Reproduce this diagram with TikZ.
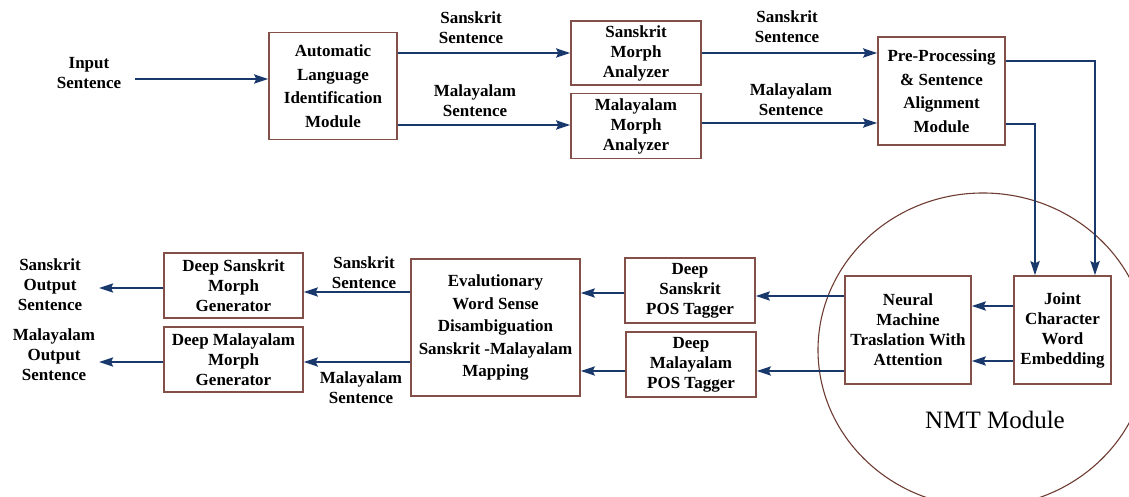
\documentclass[tikz,border=0pt]{standalone}
\usepackage{fontspec}
\setmainfont{Liberation Serif}
\usetikzlibrary{arrows.meta}
\definecolor{arrc}{RGB}{25,56,108}
\definecolor{boxc}{RGB}{130,80,72}
\definecolor{circc}{RGB}{110,60,50}
\tikzset{
  box/.style={draw=boxc, line width=1.4pt, align=center, inner sep=0pt, font=\fontsize{17}{20}\selectfont\bfseries},
  tallbox/.style={box, font=\fontsize{17}{23.5}\selectfont\bfseries},
  lbl/.style={align=center, inner sep=0pt, font=\fontsize{17}{20}\selectfont\bfseries},
  conn/.style={draw=arrc, line width=2.5pt, -{Stealth[length=14pt,width=9pt,inset=2pt]}},
}
\begin{document}
\begin{tikzpicture}[x=1pt,y=-1pt]
\useasboundingbox (0,0) rectangle (1129,497);
\clip (0,0) rectangle (1129,497);
% NMT circle
\draw[circc, line width=1.1pt] (983,350) ellipse [x radius=165pt, y radius=157pt];
\node[font=\fontsize{25}{28}\selectfont] (nmtlbl) at (995,420) {NMT Module};

% top row
\node[lbl] (inp) at (89,73) {Input\\Sentence};
\node[tallbox, minimum width=128pt, minimum height=107pt] (ali) at (333,86) {Automatic\\Language\\Identification\\Module};
\node[box, minimum width=130pt, minimum height=64pt] (sma) at (636,53) {Sanskrit\\Morph\\Analyzer};
\node[box, minimum width=130pt, minimum height=65pt] (mma) at (636,126) {Malayalam\\Morph\\Analyzer};
\node[tallbox, minimum width=127pt, minimum height=108pt] (pp) at (941.5,91) {Pre-Processing\\\& Sentence\\Alignment\\Module};
\node[lbl] (l1) at (471,28) {Sanskrit\\Sentence};
\node[lbl] (l2) at (475,101) {Malayalam\\Sentence};
\node[lbl] (l3) at (787,27) {Sanskrit\\Sentence};
\node[lbl] (l4) at (791,100) {Malayalam\\Sentence};

% bottom row
\node[box, minimum width=97pt, minimum height=108pt] (joint) at (1062.5,330) {Joint\\Character\\Word\\Embedding};
\node[box, minimum width=126pt, minimum height=108pt] (nmt) at (908,330) {Neural\\Machine\\Traslation With\\Attention};
\node[box, minimum width=130pt, minimum height=65pt] (dspos) at (690,290.5) {Deep\\Sanskrit\\POS Tagger};
\node[box, minimum width=130pt, minimum height=65pt] (dmpos) at (691,364.5) {Deep\\Malayalam\\POS Tagger};
\node[box, font=\fontsize{17}{22.5}\selectfont\bfseries, minimum width=169pt, minimum height=137pt] (eval) at (495.5,327.5) {Evalutionary\\Word Sense\\Disambiguation\\Sanskrit -Malayalam\\Mapping};
\node[box, minimum width=139pt, minimum height=65pt] (dsmg) at (233.5,285.5) {Deep Sanskrit\\Morph\\Generator};
\node[box, minimum width=139pt, minimum height=65pt] (dmmg) at (233.5,359.5) {Deep Malayalam\\Morph\\Generator};
\node[lbl] (sout) at (50,285) {Sanskrit\\Output\\Sentence};
\node[lbl] (mout) at (54,355) {Malayalam\\Output\\Sentence};
\node[lbl] (l5) at (364,273) {Sanskrit\\Sentence};
\node[lbl] (l6) at (361,388) {Malayalam\\Sentence};

% free ends
\coordinate (inS) at (135,79);
\coordinate (sT) at (99,288);
\coordinate (mT) at (99,362);

% connectors
\draw[conn] (inS) -- (inS -| ali.west);
\draw[conn] (ali.east |- sma.west) -- (sma.west);
\draw[conn] ([yshift=-39pt]ali.east) -- ([yshift=-39pt]ali.east -| mma.west);
\draw[conn] (sma.east) -- (sma.east -| pp.west);
\draw[conn] ([yshift=3pt]mma.east) -- ([yshift=3pt]mma.east -| pp.west);
\draw[conn] ([yshift=30pt]pp.east) -| ([xshift=32.5pt]joint.north);
\draw[conn] ([yshift=-33pt]pp.east) -| ([xshift=-27.5pt]joint.north);
\draw[conn] ([yshift=24pt]joint.west) -- ([yshift=24pt]joint.west -| nmt.east);
\draw[conn] ([yshift=-31pt]joint.west) -- ([yshift=-31pt]joint.west -| nmt.east);
\draw[conn] ([yshift=34pt]nmt.west) -- ([yshift=34pt]nmt.west -| dspos.east);
\draw[conn] ([yshift=-41pt]nmt.west) -- ([yshift=-41pt]nmt.west -| dmpos.east);
\draw[conn] ([yshift=-2.5pt]dspos.west) -- ([yshift=-2.5pt]dspos.west -| eval.east);
\draw[conn] ([yshift=-6.5pt]dmpos.west) -- ([yshift=-6.5pt]dmpos.west -| eval.east);
\draw[conn] ([yshift=35.5pt]eval.west) -- ([yshift=35.5pt]eval.west -| dsmg.east);
\draw[conn] ([yshift=-34.5pt]eval.west) -- ([yshift=-34.5pt]eval.west -| dmmg.east);
\draw[conn] (dsmg.west |- sT) -- (sT);
\draw[conn] (dmmg.west |- mT) -- (mT);
\end{tikzpicture}
\end{document}
